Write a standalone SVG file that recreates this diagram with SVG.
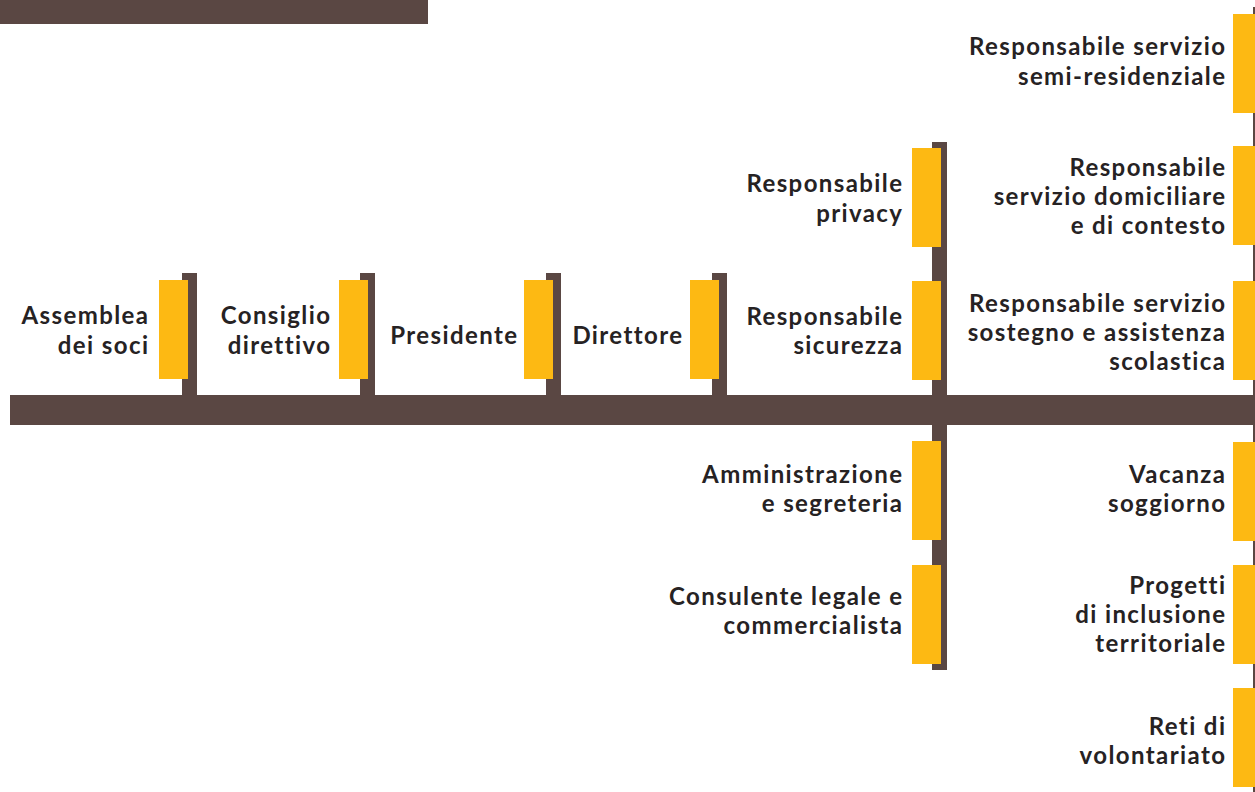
<svg xmlns="http://www.w3.org/2000/svg" width="1255" height="792" viewBox="0 0 1255 792">
<style>
.bar{fill:#5a4743}
.tab{fill:#fdb913}
.lbl{font-family:Lato,"Open Sans","Liberation Sans",sans-serif;font-weight:700;font-size:24px;letter-spacing:1.4px;fill:#262223;text-anchor:end}
</style>
<rect width="1255" height="792" fill="#ffffff"/>
<rect id="header-bar" class="bar" x="0" y="0" width="428" height="24"/>
<g id="connectors">
<rect class="bar" x="10" y="395" width="1245" height="30"/>
<rect class="bar" x="182" y="273" width="15" height="124"/>
<rect class="bar" x="360" y="273" width="15" height="124"/>
<rect class="bar" x="546" y="273" width="15" height="124"/>
<rect class="bar" x="712" y="273" width="15" height="124"/>
<rect class="bar" x="932" y="142" width="15" height="528"/>
<rect class="bar" x="1253" y="7" width="15" height="785"/>
</g>
<g id="assemblea"><rect class="tab" x="159" y="280" width="29" height="99"/><text class="lbl" x="149.4" y="324">Assemblea</text><text class="lbl" x="149.4" y="354">dei soci</text></g>
<g id="consiglio"><rect class="tab" x="339" y="280" width="29" height="99"/><text class="lbl" x="331.4" y="324">Consiglio</text><text class="lbl" x="331.4" y="354">direttivo</text></g>
<g id="presidente"><rect class="tab" x="524" y="280" width="29" height="99"/><text class="lbl" x="518.4" y="344">Presidente</text></g>
<g id="direttore"><rect class="tab" x="690" y="280" width="29" height="99"/><text class="lbl" x="683.4" y="344">Direttore</text></g>
<g id="privacy"><rect class="tab" x="912" y="148" width="29" height="99"/><text class="lbl" x="903.4" y="192">Responsabile</text><text class="lbl" x="903.4" y="222">privacy</text></g>
<g id="sicurezza"><rect class="tab" x="912" y="281" width="29" height="99"/><text class="lbl" x="903.4" y="325">Responsabile</text><text class="lbl" x="903.4" y="354">sicurezza</text></g>
<g id="amministrazione"><rect class="tab" x="912" y="441" width="29" height="99"/><text class="lbl" x="903.4" y="483">Amministrazione</text><text class="lbl" x="903.4" y="512">e segreteria</text></g>
<g id="consulente"><rect class="tab" x="912" y="565" width="29" height="99"/><text class="lbl" x="903.4" y="605">Consulente legale e</text><text class="lbl" x="903.4" y="634">commercialista</text></g>
<g id="semi-residenziale"><rect class="tab" x="1233" y="14" width="29" height="99"/><text class="lbl" x="1226.4" y="55">Responsabile servizio</text><text class="lbl" x="1226.4" y="85">semi-residenziale</text></g>
<g id="domiciliare"><rect class="tab" x="1233" y="146" width="29" height="99"/><text class="lbl" x="1226.4" y="176">Responsabile</text><text class="lbl" x="1226.4" y="205">servizio domiciliare</text><text class="lbl" x="1226.4" y="234">e di contesto</text></g>
<g id="sostegno"><rect class="tab" x="1233" y="281" width="29" height="99"/><text class="lbl" x="1226.4" y="312">Responsabile servizio</text><text class="lbl" x="1226.4" y="341">sostegno e assistenza</text><text class="lbl" x="1226.4" y="370">scolastica</text></g>
<g id="vacanza"><rect class="tab" x="1233" y="442" width="29" height="99"/><text class="lbl" x="1226.4" y="483">Vacanza</text><text class="lbl" x="1226.4" y="512">soggiorno</text></g>
<g id="progetti"><rect class="tab" x="1233" y="565" width="29" height="99"/><text class="lbl" x="1226.4" y="594">Progetti</text><text class="lbl" x="1226.4" y="623">di inclusione</text><text class="lbl" x="1226.4" y="652">territoriale</text></g>
<g id="reti"><rect class="tab" x="1233" y="688" width="29" height="99"/><text class="lbl" x="1226.4" y="735">Reti di</text><text class="lbl" x="1226.4" y="764">volontariato</text></g>
</svg>
